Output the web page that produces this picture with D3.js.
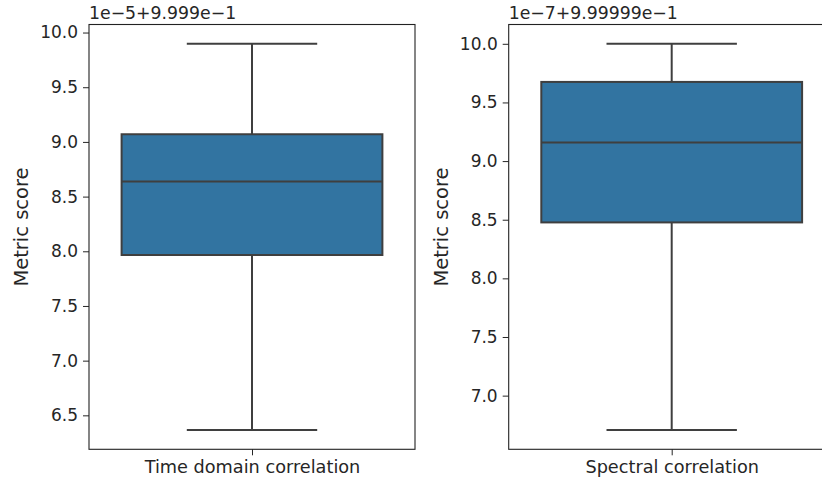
<!DOCTYPE html>
<html>
<head>
<meta charset="utf-8">
<script src="https://cdn.jsdelivr.net/npm/d3@7"></script>
<style>
  body { margin: 0; background: #fff; }
  svg { display: block; font-family: "DejaVu Sans", sans-serif; }
</style>
</head>
<body>
<div id="chart"></div>
<script>
// one box per panel: [whisker low, q1, median, q3, whisker high]
const categories = ["Time domain correlation", "Spectral correlation"];
const whiskerLow = [6.366, 6.707];
const q1 = [7.966, 8.477];
const median = [8.637, 9.158];
const q3 = [9.07, 9.675];
const whiskerHigh = [9.897, 10.0];
const offsetLabels = ["1e\u22125+9.999e\u22121", "1e\u22127+9.99999e\u22121"];
const yTicks = [
  [6.5, 7.0, 7.5, 8.0, 8.5, 9.0, 9.5, 10.0],
  [7.0, 7.5, 8.0, 8.5, 9.0, 9.5, 10.0]
];
const yLabel = "Metric score";

const width = 822, height = 482;
const panelLeft = [89, 508.7], panelWidth = 326;
const plotTop = 24.5, plotBottom = 449.3;
const boxFill = "#3274a1", lineColor = "#3f3f3f", textColor = "#262626";

const svg = d3.select("#chart").append("svg")
  .attr("width", width).attr("height", height);

categories.forEach((cat, i) => {
  const lo = whiskerLow[i], hi = whiskerHigh[i];
  const pad = (hi - lo) * 0.05;
  const y = d3.scaleLinear().domain([lo - pad, hi + pad]).range([plotBottom, plotTop]);
  const x = d3.scaleLinear().domain([-0.5, 0.5])
    .range([panelLeft[i], panelLeft[i] + panelWidth]);

  const g = svg.append("g");

  // y axis
  const yAxis = g.append("g")
    .attr("transform", `translate(${panelLeft[i]},0)`)
    .call(d3.axisLeft(y).tickValues(yTicks[i]).tickFormat(d3.format(".1f")).tickSize(6).tickPadding(5));
  yAxis.select(".domain").remove();
  yAxis.selectAll("text").attr("font-size", 17).attr("fill", textColor)
    .attr("font-family", "DejaVu Sans");
  yAxis.selectAll("line").attr("stroke", textColor);

  // x axis
  const xAxis = g.append("g")
    .attr("transform", `translate(0,${plotBottom})`)
    .call(d3.axisBottom(x).tickValues([0]).tickFormat(() => cat).tickSize(6).tickPadding(5));
  xAxis.select(".domain").remove();
  xAxis.selectAll("text").attr("font-size", 17.7).attr("fill", textColor)
    .attr("font-family", "DejaVu Sans");
  xAxis.selectAll("line").attr("stroke", textColor);

  // whiskers
  const cx = x(0);
  g.append("line").attr("x1", cx).attr("x2", cx)
    .attr("y1", y(q3[i])).attr("y2", y(hi))
    .attr("stroke", lineColor).attr("stroke-width", 2);
  g.append("line").attr("x1", cx).attr("x2", cx)
    .attr("y1", y(lo)).attr("y2", y(q1[i]))
    .attr("stroke", lineColor).attr("stroke-width", 2);
  [lo, hi].forEach(v => {
    g.append("line").attr("x1", x(-0.2)).attr("x2", x(0.2))
      .attr("y1", y(v)).attr("y2", y(v))
      .attr("stroke", lineColor).attr("stroke-width", 2);
  });

  // box
  g.append("rect")
    .attr("x", x(-0.4)).attr("width", x(0.4) - x(-0.4))
    .attr("y", y(q3[i])).attr("height", y(q1[i]) - y(q3[i]))
    .attr("fill", boxFill).attr("stroke", lineColor).attr("stroke-width", 2);
  g.append("line").attr("x1", x(-0.4)).attr("x2", x(0.4))
    .attr("y1", y(median[i])).attr("y2", y(median[i]))
    .attr("stroke", lineColor).attr("stroke-width", 2);

  // frame
  g.append("rect")
    .attr("x", panelLeft[i]).attr("y", plotTop)
    .attr("width", panelWidth).attr("height", plotBottom - plotTop)
    .attr("fill", "none").attr("stroke", "#222").attr("stroke-width", 1.1);

  // offset text
  g.append("text")
    .attr("x", panelLeft[i]).attr("y", plotTop - 6)
    .attr("font-size", 17.3).attr("fill", textColor)
    .text(offsetLabels[i]);

  // y label
  g.append("text")
    .attr("transform", `translate(${panelLeft[i] - 61},227) rotate(-90)`)
    .attr("text-anchor", "middle")
    .attr("font-size", 19.5).attr("fill", textColor)
    .text(yLabel);
});
</script>
</body>
</html>
